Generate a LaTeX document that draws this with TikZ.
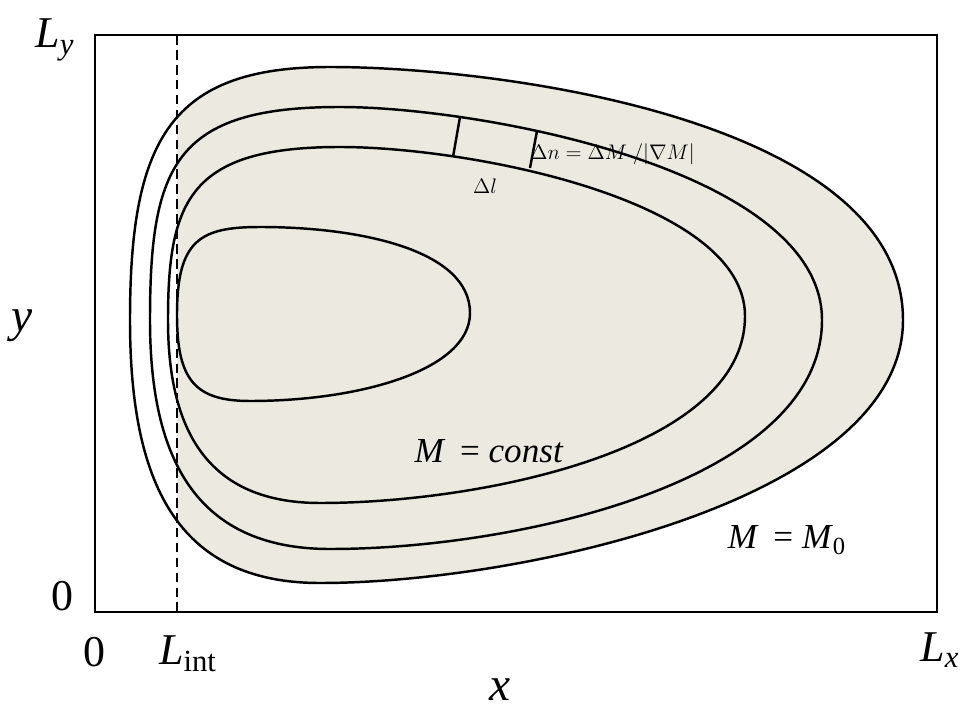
\documentclass[tikz,border=0pt]{standalone}
\usepackage{fontspec}
\setmainfont{Liberation Serif}
\definecolor{sand}{RGB}{236,234,224}
\begin{document}
\begin{tikzpicture}[x=0.02cm, y=-0.02cm,
                    level/.style={line width=1.4pt},
                    big/.style={font=\fontsize{25}{28}\selectfont, inner sep=0pt},
                    mid/.style={font=\fontsize{20}{24}\selectfont, inner sep=0pt},
                    axis/.style={font=\fontsize{27}{30}\selectfont, inner sep=0pt},
                    small/.style={font=\fontsize{12}{14}\selectfont, inner sep=0pt}]
\useasboundingbox (0,0) rectangle (961,713);
\coordinate (sw) at (95,612);
\coordinate (ne) at (937,35);
\coordinate (itop) at (177,35);
\coordinate (ibot) at (177,612);
% level M = M_0
\path[save path=\outerline] (130,320) .. controls (130,140) and (170,67) .. (330,67)
    .. controls (500,67) and (903,120) .. (903,320)
    .. controls (903,500) and (520,583) .. (320,583)
    .. controls (175,583) and (130,480) .. cycle;
\begin{scope}
\clip (itop) rectangle (961,713);
\fill[sand, use path=\outerline];
\end{scope}
\draw[level, use path=\outerline];
\draw[level] (150,320) .. controls (150,165) and (175,107) .. (340,107)
    .. controls (480,107) and (822,170) .. (822,320)
    .. controls (822,480) and (520,549) .. (330,549)
    .. controls (190,549) and (150,450) .. cycle;
\draw[level] (168,320) .. controls (168,200) and (190,147) .. (340,147)
    .. controls (470,147) and (745,200) .. (745,316)
    .. controls (745,450) and (480,503) .. (320,503)
    .. controls (200,503) and (168,420) .. cycle;
% innermost level
\draw[level] (177,315) .. controls (177,240) and (200,227) .. (260,227)
    .. controls (360,227) and (470,250) .. (470,313)
    .. controls (470,370) and (360,401) .. (250,401)
    .. controls (195,401) and (177,380) .. cycle;
\draw[level] (460,117) -- (453,157);
\draw[level] (537,131) -- (530,168);
\draw[line width=1.1pt, dash pattern=on 5.5pt off 3pt] (itop) -- (ibot);
\draw[line width=1.6pt] (sw) rectangle (ne);
\node[big] (Ly) at (55,40) {\textit{L}\textsubscript{\textit{y}}};
\node[big] (yzero) at (62,596) {0};
\node[big] (xzero) at (94,652) {0};
\node[big] (Lint) at (188,654) {\textit{L}\textsubscript{int}};
\node[big] (Lx) at (940,650) {\textit{L}\textsubscript{\textit{x}}};
\node[axis] (xlab) at (500,690) {\textit{x}};
\node[axis] (ylab) at (22,326) {\textit{y}};
\node[mid] (Mconst) at (489,451) {\textit{M}\,\ = \textit{const}};
\node[mid] (Mzero) at (787,540) {\textit{M}\,\ = \textit{M}\textsubscript{0}};
\node[small, anchor=west] (dn) at (530,154) {$\Delta n = \Delta M\;/\big|\nabla M\big|$};
\node[small] (dl) at (485,186) {$\Delta l$};
\end{tikzpicture}
\end{document}
